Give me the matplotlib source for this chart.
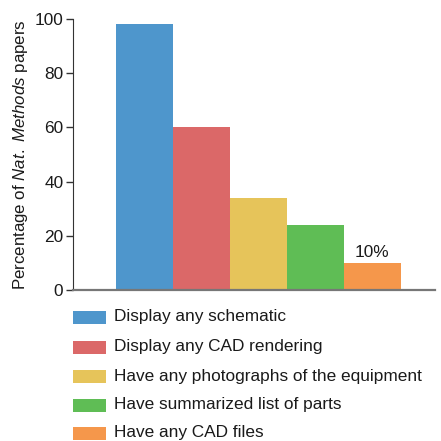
import matplotlib
matplotlib.use("Agg")
import matplotlib.pyplot as plt
from matplotlib.patches import Rectangle

plt.rcParams['font.family'] = ['Liberation Sans', 'DejaVu Sans']
plt.rcParams['mathtext.fontset'] = 'custom'
plt.rcParams['mathtext.rm'] = 'Liberation Sans'
plt.rcParams['mathtext.it'] = 'Liberation Sans:italic'

categories = ["Display any schematic",
              "Display any CAD rendering",
              "Have any photographs of the equipment",
              "Have summarized list of parts",
              "Have any CAD files"]
values = [98, 60, 34, 24, 10]
colors = ["#4E96CC", "#DB6868", "#E6C45A", "#5FBD55", "#F5974B"]
yticks = [0, 20, 40, 60, 80, 100]

fig = plt.figure(figsize=(4.41, 4.41), dpi=100)
ax = fig.add_axes([0.1655, 0.342, 0.821, 0.615])

xs = list(range(len(values)))
ax.bar(xs, values, width=1.0, color=colors, linewidth=0)

# label on the last bar only
ax.text(xs[-1], values[-1] + 1.2, "%d%%" % values[-1], ha="center", va="bottom",
        fontsize=12.4, color="#1a1a1a")

ax.set_xlim(-1.25, 5.1)
ax.set_ylim(0, 100)
ax.set_yticks(yticks)
ax.set_xticks([])
ax.tick_params(axis="y", labelsize=12.4, length=5, width=1, color="#333333",
               pad=2, labelcolor="#1a1a1a")
for s in ["top", "right"]:
    ax.spines[s].set_visible(False)
ax.spines["left"].set_color("#333333")
ax.spines["bottom"].set_color("#777777")
ax.spines["bottom"].set_linewidth(1.6)
ax.set_ylabel(r"Percentage of $\it{Nat.\ Methods}$ papers", fontsize=12.2,
              color="#1a1a1a", labelpad=3)

# legend, one row per category
row_y = [317, 347, 376, 405, 433]
for lab, col, yy in zip(categories, colors, row_y):
    yf = 1 - yy / 441.0
    fig.patches.append(Rectangle((73 / 441.0, yf - 6.5 / 441.0), 33 / 441.0, 13 / 441.0,
                                 transform=fig.transFigure, color=col, lw=0))
    fig.text(114 / 441.0, yf, lab, fontsize=12.4, va="center", ha="left", color="#1a1a1a")

fig.savefig("out.png", dpi=100)
